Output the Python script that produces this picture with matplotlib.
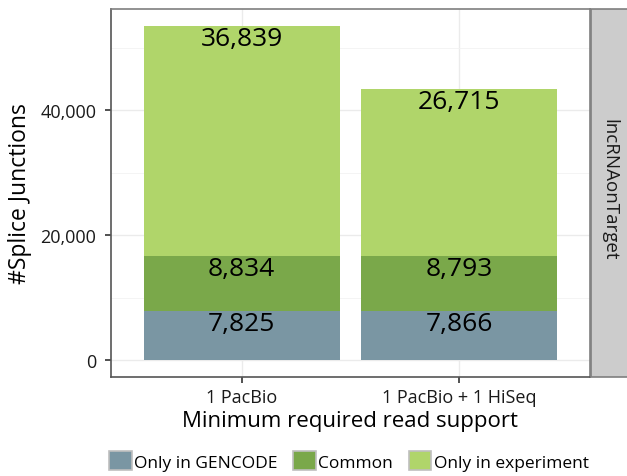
import matplotlib.pyplot as plt
from matplotlib.patches import Rectangle, Patch
import numpy as np

plt.rcParams['font.family'] = ['Open Sans', 'DejaVu Sans']

categories = ["1 PacBio", "1 PacBio + 1 HiSeq"]
series = ["Only in GENCODE", "Common", "Only in experiment"]
only_gencode = [7825, 7866]
common = [8834, 8793]
only_experiment = [36839, 26715]
colors = ["#7a96a3", "#7aa84a", "#b0d56a"]
facet = "lncRNAonTarget"

fig = plt.figure(figsize=(6.27, 4.77), dpi=100)
ax = fig.add_axes([111/627, 1 - 378/477, 479/627, 368/477])

x = np.arange(1, len(categories) + 1)
bottom = np.zeros(len(categories))
for vals, col, name in zip([only_gencode, common, only_experiment], colors, series):
    vals = np.array(vals)
    ax.bar(x, vals, width=0.9, bottom=bottom, color=col, label=name, zorder=2)
    top = bottom + vals
    for xi, t, v in zip(x, top, vals):
        ax.text(xi, t - 2000, f"{v:,}", ha="center", va="center",
                fontsize=19, color="black", zorder=3)
    bottom = top

ax.set_xlim(0.4, 2.6)
ax.set_ylim(-2675, 56173)
ax.set_yticks([0, 20000, 40000])
ax.set_yticklabels(["0", "20,000", "40,000"])
ax.set_yticks([10000, 30000, 50000], minor=True)
ax.set_xticks(x)
ax.set_xticklabels(categories)
ax.grid(True, which="major", color="#ebebeb", lw=1.0, zorder=0)
ax.grid(True, which="minor", axis="y", color="#f2f2f2", lw=0.6, zorder=0)
ax.tick_params(which="minor", length=0)
ax.tick_params(which="major", length=4.5, width=1.2, color="#333333",
               labelsize=13, labelcolor="#1a1a1a")
ax.tick_params(axis="y", pad=6)
for s in ax.spines.values():
    s.set_color("#7f7f7f")
    s.set_linewidth(1.2)
ax.spines["left"].set_color("#555555")
ax.spines["bottom"].set_color("#555555")

ax.set_xlabel("Minimum required read support", fontsize=16, labelpad=3)
ax.set_ylabel("#Splice Junctions", fontsize=16.5, labelpad=6)

# facet strip on the right
strip = Rectangle((591/627, 1 - 378/477), 40/627, 368/477, transform=fig.transFigure,
                  facecolor="#cccccc", edgecolor="#7f7f7f", lw=1.2, clip_on=False)
fig.patches.append(strip)
fig.text(609/627, 1 - 190/477, facet, rotation=-90, ha="center", va="center",
         fontsize=13.5, color="#1a1a1a")

handles = [Patch(facecolor=c, edgecolor="#bfbfbf", lw=1.2) for c in colors]
fig.legend(handles, series, loc="center", bbox_to_anchor=(349/627, 1 - 462/477),
           ncol=3, frameon=False, fontsize=12.5, handlelength=1.3, handleheight=1.3,
           handletextpad=0.15, columnspacing=0.9)

fig.savefig("out.png", dpi=100)
